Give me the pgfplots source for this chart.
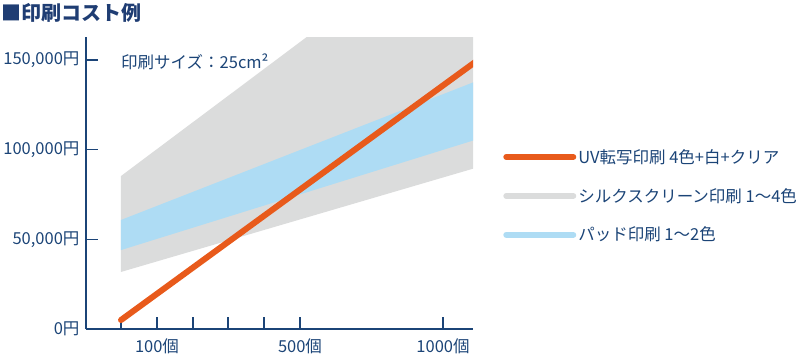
\documentclass[border=0pt]{standalone}
\usepackage{fontspec}
\setmainfont{Noto Sans CJK JP}
\usepackage{pgfplots}
\pgfplotsset{compat=1.18}
\usetikzlibrary{calc}
\definecolor{navy}{HTML}{1B4477}
\definecolor{titlec}{HTML}{1F3D73}
\definecolor{uvorange}{HTML}{E85A1B}
\definecolor{silk}{HTML}{DBDCDC}
\definecolor{pad}{HTML}{AEDCF4}
\begin{document}
\begin{tikzpicture}[x=1pt,y=1pt]
\begin{axis}[
  scale only axis, width=387pt, height=292pt,
  xmin=86, xmax=473, ymin=0, ymax=162800,
  axis x line*=bottom, axis y line*=left,
  axis line style={navy, line width=1.2pt},
  xtick={121,157,193,228,264,300,443},
  xticklabels={,100個,,,,500個,1000個},
  ytick={0,50000,100000,150000},
  yticklabels={0円,{50,000円},{100,000円},{150,000円}},
  tick align=inside, major tick length=12pt,
  tick style={navy, line width=1.2pt},
  tick label style={font=\fontsize{16.5}{16.5}\selectfont, text=navy},
  xticklabel style={yshift=-6.5pt},
  yticklabel style={xshift=-3pt},
  scaled y ticks=false,
  legend image code/.code={\draw[#1] (0pt,0pt) -- (67pt,0pt);},
  legend style={at={(rel axis cs:1.07,0.63)}, anchor=north west, draw=none, fill=none,
    font=\fontsize{16.5}{16.5}\selectfont, text=navy, row sep=19.5pt, cells={anchor=west}},
]
\coordinate (bl) at (rel axis cs:0,0);
\addplot[fill=silk, draw=none, forget plot] coordinates {(121,31800) (475,89700) (475,233000) (121,85300)} -- cycle;
\addplot[fill=pad, draw=none, forget plot] coordinates {(121,44000) (475,105400) (475,137900) (121,60800)} -- cycle;
\addplot[uvorange, line width=6pt, line cap=round, forget plot] coordinates {(121,5000) (478,150000)};
\addlegendimage{uvorange, line width=6pt, line cap=round}
\addlegendentry{UV転写印刷 4色+白+クリア}
\addlegendimage{silk, line width=6pt, line cap=round}
\addlegendentry{シルクスクリーン印刷 1〜4色}
\addlegendimage{pad, line width=6pt, line cap=round}
\addlegendentry{パッド印刷 1〜2色}
\end{axis}
\pgfresetboundingbox
\path[use as bounding box] ($(bl)+(-86,-30)$) rectangle ++(801,359);
\node[anchor=west, inner sep=0pt, font=\fontsize{20}{20}\selectfont\bfseries, text=titlec] at ($(bl)+(-85,316)$) {■印刷コスト例};
\node[anchor=west, inner sep=0pt, font=\fontsize{16.5}{16.5}\selectfont, text=navy] at ($(bl)+(35,267)$) {印刷サイズ：25cm²};
\end{tikzpicture}
\end{document}
